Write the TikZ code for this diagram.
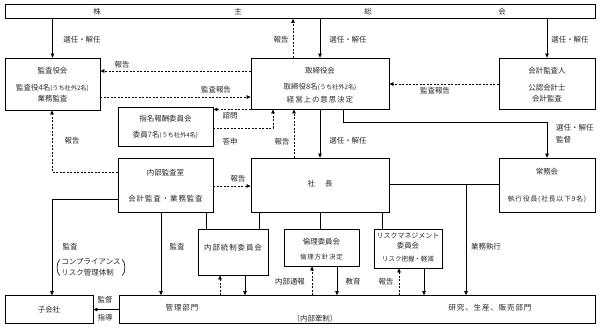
\documentclass[tikz,border=0pt]{standalone}
\usepackage{fontspec}
\setmainfont{Noto Sans CJK JP}
\newfontfamily\jpw[LetterSpace=12]{Noto Sans CJK JP}
\usetikzlibrary{arrows.meta,calc}
\newcommand\smj{\fontsize{6.2}{7}\selectfont}
\begin{document}
\begin{tikzpicture}[x=1bp,y=-1bp,
  box/.style={draw, line width=0.8bp, inner sep=0pt},
  txt/.style={inner sep=0pt, font=\fontsize{7.5}{9}\selectfont, text=black!85},
  conn/.style={line width=0.8bp},
  arr/.style={conn, -{Triangle[length=4bp,width=3.6bp]}},
  darr/.style={arr, dash pattern=on 2bp off 1.5bp},
  dline/.style={conn, dash pattern=on 2bp off 1.5bp}]
\useasboundingbox (0,0) rectangle (601,328);

% boxes
\node[box,minimum width=590bp,minimum height=14bp] (top) at (300,11.5) {};
\node[box,minimum width=95bp,minimum height=52bp] (kansa) at (52.5,84) {};
\node[box,minimum width=138bp,minimum height=51bp] (tori) at (320,83.5) {};
\node[box,minimum width=96bp,minimum height=51bp] (kaikei) at (547,83.5) {};
\node[box,minimum width=95bp,minimum height=39bp] (shimei) at (165.5,126.5) {};
\node[box,minimum width=95bp,minimum height=54bp] (naibu) at (165.5,185) {};
\node[box,minimum width=138bp,minimum height=54bp] (shacho) at (320,185) {};
\node[box,minimum width=96bp,minimum height=54bp] (jomu) at (547,185) {};
\node[box,minimum width=70bp,minimum height=46bp] (tosei) at (233,252) {};
\node[box,minimum width=75bp,minimum height=37bp] (rinri) at (321.5,247.5) {};
\node[box,minimum width=68bp,minimum height=39bp] (risk) at (408,248.5) {};
\node[box,minimum width=88bp,minimum height=28bp] (kogaisha) at (49,309.5) {};
\node[box,minimum width=476bp,minimum height=28bp] (bumon) at (357,309.5) {};

% helper coordinates
\coordinate (xa) at (293,0);
\coordinate (xb) at (273,0);
\coordinate (xc) at (294,0);
\coordinate (xd) at (343,0);
\coordinate (xe) at (52,0);
\coordinate (xf) at (161,0);
\coordinate (xg) at (206,0);
\coordinate (xh) at (259,0);
\coordinate (xi) at (320,0);
\coordinate (xj) at (382,0);
\coordinate (d1) at (220,0);
\coordinate (s1) at (245,0);
\coordinate (d2) at (312,0);
\coordinate (s2) at (337,0);
\coordinate (d3) at (399,0);
\coordinate (s3) at (424,0);
\coordinate (y71) at (0,71);
\coordinate (y97) at (0,97);
\coordinate (y84) at (0,84);
\coordinate (y128) at (0,128);
\coordinate (y122) at (0,122);
\coordinate (y186) at (0,186);
\coordinate (y172) at (0,172);
\coordinate (y199) at (0,199);
\coordinate (y184) at (0,184);
\coordinate (j) at (466,184);

% connectors
\draw[arr] (top.south -| kansa.north) -- (kansa.north);
\draw[arr] (top.south -| tori.north) -- (tori.north);
\draw[arr] (top.south -| kaikei.north) -- (kaikei.north);
\draw[darr] (tori.north -| xa) -- (top.south -| xa);
\draw[darr] (tori.west |- y71) -- (kansa.east |- y71);
\draw[darr] (kansa.east |- y97) -- (tori.west |- y97);
\draw[darr] (kaikei.west |- y84) -- (tori.east |- y84);
\draw[darr] (tori.south west) -- (tori.south west -| shimei.east);
\draw[darr] (shimei.east |- y128) -| (tori.south -| xb);
\draw[darr] (shacho.north -| xc) -- (tori.south -| xc);
\draw[arr] (tori.south) -- (shacho.north);
\draw[arr] (tori.south -| xd) |- (y122 -| jomu.north) -- (jomu.north);
\draw[darr] (naibu.east |- y186) -- (shacho.west |- y186);
\draw[darr] (naibu.west |- y172) -| (kansa.south -| xe);
\draw[arr] (naibu.west |- y199) -| (kogaisha.north -| xe);
\draw[arr] (naibu.south -| xf) -- (bumon.north -| xf);
\draw[conn] (naibu.south -| xg) -- (tosei.north -| xg);
\draw[conn] (shacho.south -| xh) -- (tosei.north -| xh);
\draw[conn] (shacho.south -| xi) -- (rinri.north -| xi);
\draw[conn] (shacho.south -| xj) -- (risk.north -| xj);
\draw[conn] (shacho.east |- y184) -- (jomu.west |- y184);
\draw[arr] (j) -- (bumon.north -| j);
\draw[darr] (bumon.north -| d1) -- (tosei.south -| d1);
\draw[arr] (tosei.south -| s1) -- (bumon.north -| s1);
\draw[darr] (bumon.north -| d2) -- (rinri.south -| d2);
\draw[arr] (rinri.south -| s2) -- (bumon.north -| s2);
\draw[darr] (bumon.north -| d3) -- (risk.south -| d3);
\draw[arr] (risk.south -| s3) -- (bumon.north -| s3);
\draw[arr] (bumon.west) -- (kogaisha.east);

% top bar text
\node[txt] (t1) at (97,11.5) {株};
\node[txt] (t2) at (238,11.5) {主};
\node[txt] (t3) at (368,11.5) {総};
\node[txt] (t4) at (502,11.5) {会};

% box texts
\node[txt] (k1) at (52.5,71) {監査役会};
\node[txt] (k2) at (52.5,88) {監査役4名{\smj (うち社外2名)}};
\node[txt] (k3) at (52.5,99) {業務監査};
\node[txt] (r1) at (320,71) {取締役会};
\node[txt] (r2) at (320,87) {取締役8名{\smj (うち社外2名)}};
\node[txt] (r3) at (320,100) {\jpw 経営上の意思決定};
\node[txt] (a1) at (547,71) {会計監査人};
\node[txt] (a2) at (547,88) {公認会計士};
\node[txt] (a3) at (547,99) {会計監査};
\node[txt] (m1) at (165.5,119) {指名報酬委員会};
\node[txt] (m2) at (165.5,135) {委員7名{\smj (うち社外4名)}};
\node[txt] (n1) at (165.5,173) {内部監査室};
\node[txt] (n2) at (165.5,199) {\jpw 会計監査・業務監査};
\node[txt] (p1) at (320,184) {社\hspace{10bp}長};
\node[txt] (g1) at (547,172) {常務会};
\node[txt] (g2) at (547,199) {\fontsize{6.8}{8}\selectfont\jpw 執行役員(社長以下9名)};
\node[txt] (c1) at (233,248) {\jpw 内部統制委員会};
\node[txt] (e1) at (321.5,242) {倫理委員会};
\node[txt] (e2) at (321.5,257) {\fontsize{6.5}{8}\selectfont\jpw 倫理方針決定};
\node[txt] (q1) at (408,236) {\fontsize{7}{8}\selectfont リスクマネジメント};
\node[txt] (q2) at (408,246) {委員会};
\node[txt] (q3) at (408,259) {\fontsize{6.5}{8}\selectfont リスク把握・軽減};
\node[txt] (s0) at (49,309.5) {子会社};
\node[txt] (b1) at (182,308) {\jpw 管理部門};
\node[txt] (b2) at (490,308) {\jpw 研究、生産、販売部門};
\node[txt] (b3) at (315,319) {（内部牽制）};

% connector labels
\node[txt] (l1) at (82,40) {選任・解任};
\node[txt] (l2) at (348,40) {選任・解任};
\node[txt] (l3) at (570,40) {選任・解任};
\node[txt] (l4) at (281,40) {報告};
\node[txt] (l5) at (122,65) {報告};
\node[txt] (l6) at (216,90) {監査報告};
\node[txt] (l7) at (435,91) {監査報告};
\node[txt] (l8) at (230,116) {諮問};
\node[txt] (l9) at (230,142) {答申};
\node[txt] (l10) at (282,142) {報告};
\node[txt] (l11) at (348,141) {選任・解任};
\node[txt,anchor=west] (l12) at (556,128) {選任・解任};
\node[txt,anchor=west] (l13) at (556,140) {監督};
\node[txt] (l14) at (238,179) {報告};
\node[txt] (l15) at (72,141) {報告};
\node[txt] (l16) at (70,247) {監査};
\node[txt,align=left,font=\fontsize{7.5}{11}\selectfont] (brk) at (91,267.5) {コンプライアンス\\リスク管理体制};
\draw[line width=0.6bp] ([xshift=-1.5bp,yshift=-1bp]brk.north west) .. controls ([xshift=-5bp,yshift=-4bp]brk.north west) and ([xshift=-5bp,yshift=4bp]brk.south west) .. ([xshift=-1.5bp,yshift=1bp]brk.south west);
\draw[line width=0.6bp] ([xshift=1.5bp,yshift=-1bp]brk.north east) .. controls ([xshift=5bp,yshift=-4bp]brk.north east) and ([xshift=5bp,yshift=4bp]brk.south east) .. ([xshift=1.5bp,yshift=1bp]brk.south east);
\node[txt] (l17) at (177,247) {監査};
\node[txt] (l18) at (486,247) {業務執行};
\node[txt] (l19) at (290,282) {内部通報};
\node[txt] (l20) at (353,282) {教育};
\node[txt] (l21) at (386,282) {報告};
\node[txt] (l22) at (105,300) {監督};
\node[txt] (l23) at (105,318) {指導};
\end{tikzpicture}
\end{document}
